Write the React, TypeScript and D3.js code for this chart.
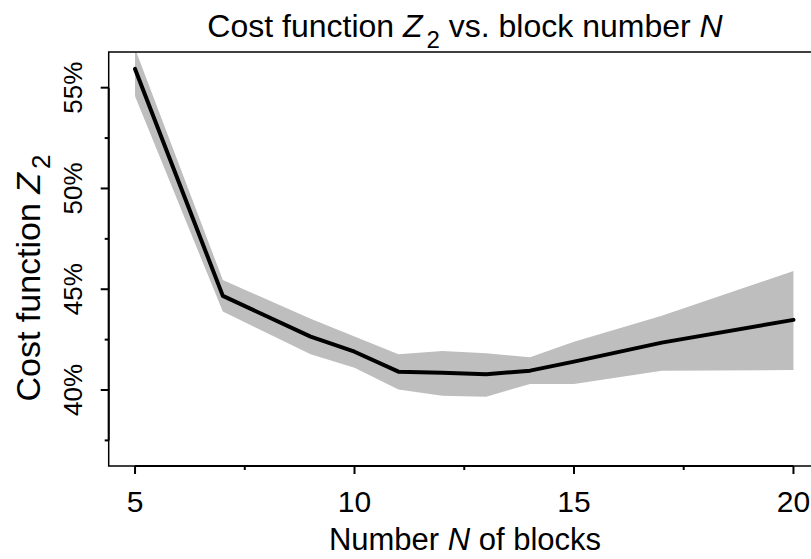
import React, { useEffect, useRef } from 'react';
import * as d3 from 'd3';

const blocks = [5, 7, 9, 10, 11, 12, 13, 14, 15, 17, 20];
const meanZ2 = [55.93, 44.67, 42.65, 41.9, 40.91, 40.86, 40.78, 40.96, 41.41, 42.35, 43.48];
const upperZ2 = [56.94, 45.46, 43.53, 42.65, 41.77, 41.94, 41.82, 41.62, 42.4, 43.68, 45.9];
const lowerZ2 = [54.57, 43.89, 41.77, 41.1, 40.03, 39.72, 39.67, 40.3, 40.3, 40.96, 40.99];

const xTicks = [5, 10, 15, 20];
const xMinorTicks = [7.5, 12.5, 17.5];
const yTicks = [40, 45, 50, 55];
const yMinorTicks = [37.5, 42.5, 47.5, 52.5];

function Z2Chart({ width = 811, height = 559 }) {
    const ref = useRef(null);

    useEffect(() => {
        document.body.style.margin = '0';
        const svg = d3.select(ref.current);
        svg.selectAll("*").remove();

        const font = "'Liberation Sans', Arial, Helvetica, sans-serif";
        const plot = { left: 108.7, right: 819.8, top: 52, bottom: 466 };

        const x = d3.scaleLinear().domain([4.4, 20.6]).range([plot.left, plot.right]);
        const y = d3.scaleLinear().domain([36.23, 56.77]).range([plot.bottom, plot.top]);

        svg.attr("width", width).attr("height", height)
            .style("display", "block")
            .style("font-family", font);

        svg.append("defs").append("clipPath").attr("id", "plot-clip")
            .append("rect")
            .attr("x", plot.left).attr("y", plot.top)
            .attr("width", plot.right - plot.left)
            .attr("height", plot.bottom - plot.top);

        const rows = blocks.map((b, i) => ({ b, m: meanZ2[i], lo: lowerZ2[i], hi: upperZ2[i] }));

        const g = svg.append("g").attr("clip-path", "url(#plot-clip)");

        g.append("path")
            .datum(rows)
            .attr("fill", "#BEBEBE")
            .attr("d", d3.area().x(d => x(d.b)).y0(d => y(d.lo)).y1(d => y(d.hi)));

        g.append("path")
            .datum(rows)
            .attr("fill", "none")
            .attr("stroke", "#000")
            .attr("stroke-width", 4)
            .attr("stroke-linejoin", "round")
            .attr("stroke-linecap", "round")
            .attr("d", d3.line().x(d => x(d.b)).y(d => y(d.m)));

        // box
        svg.append("rect")
            .attr("x", plot.left).attr("y", plot.top)
            .attr("width", plot.right - plot.left)
            .attr("height", plot.bottom - plot.top)
            .attr("fill", "none")
            .attr("stroke", "#000")
            .attr("stroke-width", 1.5);

        // x axis
        const xa = svg.append("g");
        xa.append("line")
            .attr("x1", x(xTicks[0])).attr("x2", x(xTicks[xTicks.length - 1]))
            .attr("y1", plot.bottom).attr("y2", plot.bottom)
            .attr("stroke", "#000").attr("stroke-width", 2);
        xa.selectAll(".major").data(xTicks).enter().append("line")
            .attr("x1", d => x(d)).attr("x2", d => x(d))
            .attr("y1", plot.bottom).attr("y2", plot.bottom + 8)
            .attr("stroke", "#000").attr("stroke-width", 2);
        xa.selectAll(".minor").data(xMinorTicks).enter().append("line")
            .attr("x1", d => x(d)).attr("x2", d => x(d))
            .attr("y1", plot.bottom).attr("y2", plot.bottom + 4)
            .attr("stroke", "#000").attr("stroke-width", 2);
        xa.selectAll("text").data(xTicks).enter().append("text")
            .attr("x", d => x(d)).attr("y", 512)
            .attr("text-anchor", "middle")
            .attr("font-size", 30)
            .text(d => d);

        // y axis
        const ya = svg.append("g");
        ya.append("line")
            .attr("x1", plot.left).attr("x2", plot.left)
            .attr("y1", y(yMinorTicks[0])).attr("y2", y(yTicks[yTicks.length - 1]))
            .attr("stroke", "#000").attr("stroke-width", 2);
        ya.selectAll(".major").data(yTicks).enter().append("line")
            .attr("x1", plot.left - 8).attr("x2", plot.left)
            .attr("y1", d => y(d)).attr("y2", d => y(d))
            .attr("stroke", "#000").attr("stroke-width", 2);
        ya.selectAll(".minor").data(yMinorTicks).enter().append("line")
            .attr("x1", plot.left - 4).attr("x2", plot.left)
            .attr("y1", d => y(d)).attr("y2", d => y(d))
            .attr("stroke", "#000").attr("stroke-width", 2);
        ya.selectAll("text").data(yTicks).enter().append("text")
            .attr("transform", d => `translate(82,${y(d)}) rotate(-90)`)
            .attr("text-anchor", "middle")
            .attr("font-size", 26)
            .text(d => `${d}%`);

        // title
        const title = svg.append("text")
            .attr("x", 465).attr("y", 37)
            .attr("text-anchor", "middle")
            .attr("font-size", 32);
        title.append("tspan").text("Cost function ");
        title.append("tspan").attr("font-style", "italic").text("Z");
        title.append("tspan").attr("font-size", 24).attr("dy", 11).attr("dx", 4).text("2");
        title.append("tspan").attr("dy", -11).text(" vs. block number ");
        title.append("tspan").attr("font-style", "italic").text("N");

        // x label
        const xl = svg.append("text")
            .attr("x", 465).attr("y", 550)
            .attr("text-anchor", "middle")
            .attr("font-size", 31);
        xl.append("tspan").text("Number ");
        xl.append("tspan").attr("font-style", "italic").text("N");
        xl.append("tspan").text(" of blocks");

        // y label
        const yl = svg.append("text")
            .attr("transform", "translate(40,278) rotate(-90)")
            .attr("text-anchor", "middle")
            .attr("font-size", 34);
        yl.append("tspan").text("Cost function ");
        yl.append("tspan").attr("font-style", "italic").text("Z");
        yl.append("tspan").attr("font-size", 26).attr("dy", 10).attr("dx", 4).text("2");
    }, [width, height]);

    return <svg ref={ref}></svg>;
}

export default function App() {
    return <Z2Chart />;
}
